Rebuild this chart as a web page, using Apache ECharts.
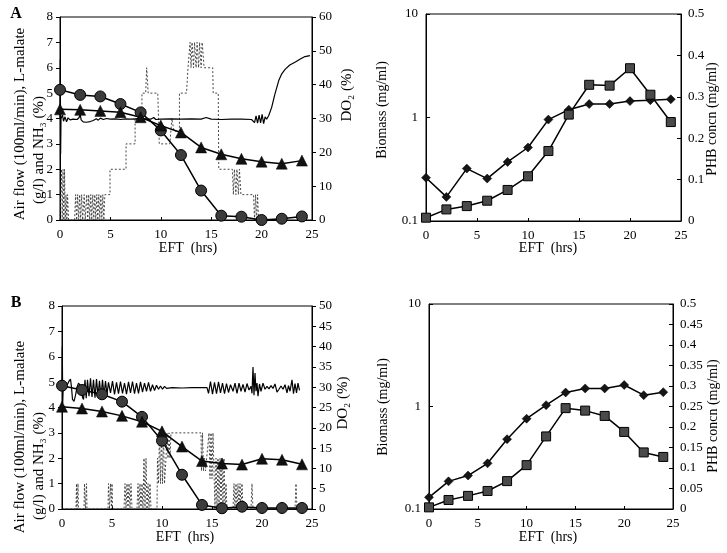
<!DOCTYPE html>
<html><head><meta charset="utf-8">
<script src="https://cdn.jsdelivr.net/npm/echarts@6/dist/echarts.min.js"></script>
<style>html,body{margin:0;padding:0;background:#fff}#c{width:727px;height:553px}</style>
</head><body><div id="c"></div>
<script>
// ---------- DATA ----------
const hoursPts = [0,2,4,6,8,10,12,14,16,18,20,22,24];
const xTicks = [0,5,10,15,20,25];

// Panel A (left)
const malateA = [5.13,4.93,4.87,4.57,4.24,3.53,2.56,1.16,0.17,0.13,0.0,0.05,0.14];
const nh3A    = [4.36,4.34,4.30,4.25,4.05,3.72,3.45,2.86,2.59,2.41,2.30,2.22,2.34];
const airA = [[0,0],[0.1,0],[0.15,2],[0.22,0],[0.3,2],[0.38,0],[0.45,2],[0.52,0],[0.6,1],[0.68,0],[0.75,1],[0.85,0],[1.45,0],[1.55,1],[1.65,0],[1.75,1],[1.85,0],[1.95,1],[2.05,0],[2.15,1],[2.25,0],[2.4,1],[2.5,0],[2.65,1],[2.75,0],[2.85,1],[2.95,0],[3.05,1],[3.15,0],[3.25,1],[3.35,0],[3.45,1],[3.55,0],[3.65,1],[3.75,0],[3.85,1],[3.95,0],[4.05,1],[4.15,0],[4.25,1],[4.35,0],[4.45,1],[4.96,1],[4.96,2],[6.55,2],[6.55,3],[7.45,3],[7.45,4],[8.13,4],[8.13,5],[8.5,5],[8.6,6],[8.75,5],[9.7,5],[9.85,3],[10.9,3],[11.1,4],[11.3,3.5],[11.85,3.5],[11.85,5],[12.55,5],[12.7,6],[12.9,7],[13.0,6],[13.1,7],[13.25,6],[13.35,7],[13.5,6],[13.6,7],[13.75,6],[13.85,7],[14.0,6],[14.1,7],[14.3,6],[15.15,6],[15.2,5],[15.7,5],[15.75,2],[17.1,2],[17.2,1],[17.3,2],[17.45,1],[17.55,2],[17.7,1],[17.8,2],[17.95,1],[19.2,1],[19.3,0],[19.4,1],[19.5,0],[19.6,1],[19.7,0],[19.9,0]];
const do2A = [[0,30],[0.03,47.5],[0.06,19.5],[0.1,30],[0.25,31],[0.35,29.2],[0.5,30.5],[0.65,29],[0.8,30.2],[1.0,29.6],[1.3,29.8],[1.7,29.7],[1.9,30.3],[2.0,31.2],[2.1,29.6],[2.3,29.0],[2.6,28.9],[3.0,29.1],[3.3,29.4],[3.6,29.9],[3.8,29.5],[4.0,30.1],[4.3,29.7],[4.6,30.0],[5.0,29.8],[5.5,29.9],[6.0,29.7],[6.5,29.9],[7.0,29.8],[7.5,29.9],[8.0,29.8],[8.5,29.9],[9.0,29.8],[9.3,30.3],[9.5,29.7],[10.0,29.8],[11.0,29.9],[12.0,29.8],[13.0,29.9],[14.0,29.8],[14.5,30.3],[15.0,29.8],[16.0,29.7],[17.0,29.8],[18.0,29.8],[19.0,29.7],[19.3,28.8],[19.45,30.8],[19.6,28.6],[19.75,31.0],[19.9,28.7],[20.05,31.2],[20.2,28.5],[20.35,30.5],[20.5,29.8],[20.7,30.8],[21.0,33.3],[21.3,37],[21.7,41.2],[22.0,43.2],[22.35,44.6],[22.8,45.8],[23.35,46.7],[23.8,47.5],[24.3,48.3],[24.8,48.6]];

// Panel A (right)
const biomassA = [0.262,0.171,0.321,0.257,0.372,0.513,0.955,1.19,1.35,1.35,1.44,1.47,1.50];
const phbA     = [0.008,0.028,0.036,0.049,0.075,0.108,0.169,0.257,0.329,0.327,0.369,0.305,0.239];

// Panel B (left)
const malateB = [4.86,4.69,4.52,4.23,3.63,2.69,1.35,0.16,0.03,0.09,0.04,0.04,0.04];
const nh3B    = [4.03,3.96,3.84,3.67,3.44,3.06,2.46,1.89,1.79,1.75,1.98,1.94,1.76];
const airB = [[0,0],[1.4,0],[1.45,1],[1.5,0],[1.6,1],[1.65,0],[2.2,0],[2.25,1],[2.35,0],[2.45,1],[2.5,0],[4.6,0],[4.65,1],[4.75,0],[4.85,1],[4.95,0],[5.0,1],[5.05,0],[6.2,0],[6.3,1],[6.4,0],[6.5,1],[6.6,0],[6.7,1],[6.8,0],[6.9,1],[7.0,0],[7.5,0],[7.6,1],[7.7,0],[7.8,1],[7.9,0],[8.0,1],[8.1,0],[8.2,2],[8.3,0],[8.4,2],[8.5,0],[8.6,1],[8.7,0],[8.8,1],[8.9,0],[9.5,0],[9.55,2],[9.65,1],[9.75,3],[9.85,1],[9.95,3],[10.05,1],[10.15,3],[10.25,1],[10.4,2],[10.5,3],[10.6,2],[10.7,3],[10.8,2],[10.9,3],[13.9,3],[13.95,1.5],[14.05,3],[14.15,1.5],[14.25,2],[14.35,1.5],[14.7,3],[14.8,1.2],[14.9,3],[15.0,1.2],[15.1,3],[15.2,1.5],[15.3,0],[15.4,2],[15.5,0],[15.6,2],[15.7,0],[15.8,2],[15.9,0],[16.0,2],[16.1,0],[16.2,2],[16.3,0],[16.4,1],[16.5,0],[17.1,0],[17.2,1],[17.3,0],[17.4,1],[17.5,0],[17.6,1],[17.7,0],[17.8,1],[17.9,0],[18.0,1],[18.1,0],[18.9,0],[19.0,1],[19.1,0],[23.3,0],[23.4,1],[23.5,0],[23.7,0]];
const do2B = [[0,30],[0.03,40],[0.07,26],[0.12,30],[0.3,29.5],[0.5,30.5],[0.7,31.5],[0.85,32],[0.95,30],[1.05,27],[1.2,26.5],[1.35,28],[1.5,30],[1.65,31],[1.8,30.5],[1.95,29.5],[2.05,27.5],[2.15,27],[2.3,31.8],[2.42,27.3],[2.55,31.8],[2.7,27.8],[2.85,32.2],[3.0,27.6],[3.15,31.8],[3.3,27.4],[3.45,32],[3.6,27.8],[3.75,31.6],[3.9,27.6],[4.05,31.8],[4.2,28],[4.35,31.5],[4.5,28.3],[4.65,31.2],[4.85,28.6],[5.05,31.5],[5.25,28.2],[5.45,31.2],[5.65,28.4],[5.85,31.4],[6.05,28.5],[6.25,31],[6.45,28.3],[6.65,31.3],[6.85,28.6],[7.05,31.4],[7.25,28.4],[7.45,31],[7.65,28.5],[7.85,31.3],[8.05,28.8],[8.25,31],[8.45,29],[8.65,31.2],[8.85,29],[9.05,30.6],[9.25,29.2],[9.45,30.5],[9.65,29.5],[9.85,30.3],[10.05,29.5],[10.25,30.2],[10.45,29.7],[10.6,29.9],[11,29.9],[12,29.8],[13,29.9],[14,29.9],[14.5,29.9],[14.65,28.5],[14.85,31.4],[15.05,28.3],[15.25,31.2],[15.45,28.4],[15.65,31.3],[15.85,28.6],[16.05,31],[16.25,28.4],[16.45,30.9],[16.65,28.7],[16.85,30.6],[17.1,29],[17.3,31],[17.5,28.5],[17.7,31],[17.9,29],[18.1,30.7],[18.3,28.8],[18.5,30.9],[18.7,29.3],[18.9,30.2],[19.0,28.5],[19.1,35],[19.2,28],[19.3,33.5],[19.4,29],[19.5,31],[19.6,27.8],[19.75,30.8],[19.9,29],[20.1,31],[20.3,29.5],[20.5,30.2],[20.7,29.6],[20.9,30.4],[21.1,29.7],[21.3,30.8],[21.5,28.8],[21.7,29.5],[21.9,30.3],[22.1,29.5],[22.3,30.6],[22.5,28.6],[22.65,30.4],[22.8,29],[23.0,31.8],[23.15,28.4],[23.3,30.9],[23.45,28.6],[23.6,31],[23.75,29.2]];

// Panel B (right)
const biomassB = [0.130,0.186,0.212,0.279,0.480,0.760,1.03,1.37,1.50,1.50,1.62,1.29,1.38];
const phbB     = [0.004,0.022,0.032,0.044,0.068,0.107,0.177,0.246,0.240,0.227,0.188,0.138,0.127];

// ---------- CHART ----------
const FONT = 'Liberation Serif';
const pair = (xs, ys) => xs.map((x, i) => [x, ys[i]]);
const chart = echarts.init(document.getElementById('c'), null, {renderer: 'canvas'});

const axLabel = {color: '#000', fontFamily: FONT, fontSize: 13};
function xAx(gi) {
  return {type: 'value', gridIndex: gi, min: 0, max: 25, interval: 5,
    axisLine: {show: true, lineStyle: {color: '#000', width: 1}},
    axisTick: {show: true, length: 3, inside: true, lineStyle: {color: '#000'}},
    axisLabel: Object.assign({margin: 8}, axLabel), splitLine: {show: false}};
}
function yAx(gi, pos, min, max, interval, extra) {
  return Object.assign({type: 'value', gridIndex: gi, position: pos, min: min, max: max, interval: interval,
    axisLine: {show: true, onZero: false, lineStyle: {color: '#000', width: 1}},
    axisTick: {show: true, length: 4, inside: false, lineStyle: {color: '#000'}},
    axisLabel: Object.assign({margin: 7}, axLabel), splitLine: {show: false}}, extra || {});
}
function logAx(gi) {
  return {type: 'log', logBase: 10, gridIndex: gi, position: 'left', min: 0.1, max: 10,
    axisLine: {show: true, onZero: false, lineStyle: {color: '#000', width: 1}},
    axisTick: {show: true, length: 4, inside: true, lineStyle: {color: '#000'}},
    minorTick: {show: false},
    axisLabel: Object.assign({margin: 8, formatter: v => String(+v.toPrecision(3))}, axLabel), splitLine: {show: false}};
}

const circ = {symbol: 'circle', symbolSize: 11, itemStyle: {color: '#3c3c3c', borderColor: '#000', borderWidth: 1}};
const tri = {symbol: 'triangle', symbolSize: 11, itemStyle: {color: '#111', borderColor: '#000', borderWidth: 0.5}};
const sq = {symbol: 'rect', symbolSize: 9, itemStyle: {color: '#4a4a4a', borderColor: '#000', borderWidth: 1}};
const dia = {symbol: 'diamond', symbolSize: 9, itemStyle: {color: '#151515', borderColor: '#000', borderWidth: 0.5}};
function mk(style, xi, yi, data) {
  return Object.assign({type: 'line', xAxisIndex: xi, yAxisIndex: yi, data: data, z: 5,
    lineStyle: {color: '#000', width: 1.5}, showSymbol: true, animation: false}, style);
}
function plain(xi, yi, data, lw, dash) {
  return {type: 'line', xAxisIndex: xi, yAxisIndex: yi, data: data, symbol: 'none', z: 3, animation: false,
    lineStyle: {color: dash ? '#333' : '#000', width: lw, type: dash ? [2, 2] : 'solid'}};
}

const grids = [
  {left: 60, top: 17, width: 252, height: 203},
  {left: 426, top: 14, width: 255, height: 207},
  {left: 62, top: 306, width: 250, height: 203},
  {left: 429, top: 304, width: 244, height: 205}
].map(g => Object.assign({show: true, borderColor: '#000', borderWidth: 1, backgroundColor: 'transparent'}, g));

function vtext(x, y, text, size) {
  return {type: 'text', x: x, y: y, rotation: Math.PI / 2,
    style: {text: text, fontFamily: FONT, fontSize: size || 14, fill: '#000', textAlign: 'center', textVerticalAlign: 'middle'}};
}
function htext(x, y, text, size, bold) {
  return {type: 'text', x: x, y: y,
    style: {text: text, fontFamily: FONT, fontSize: size || 14, fontWeight: bold ? 'bold' : 'normal', fill: '#000', textAlign: 'center', textVerticalAlign: 'middle'}};
}

chart.setOption({
  animation: false,
  grid: grids,
  xAxis: [xAx(0), xAx(1), xAx(2), xAx(3)],
  yAxis: [
    yAx(0, 'left', 0, 8, 1),
    yAx(0, 'right', 0, 60, 10),
    logAx(1),
    yAx(1, 'right', 0, 0.5, 0.1, {axisTick: {show: true, length: 4, inside: true, lineStyle: {color: '#000'}}}),
    yAx(2, 'left', 0, 8, 1),
    yAx(2, 'right', 0, 50, 5),
    logAx(3),
    yAx(3, 'right', 0, 0.5, 0.05, {axisTick: {show: true, length: 4, inside: true, lineStyle: {color: '#000'}}})
  ],
  series: [
    plain(0, 0, airA, 0.9, true),
    plain(0, 1, do2A, 1.2, false),
    mk(circ, 0, 0, pair(hoursPts, malateA)),
    mk(tri, 0, 0, pair(hoursPts, nh3A)),
    mk(dia, 1, 2, pair(hoursPts, biomassA)),
    mk(sq, 1, 3, pair(hoursPts, phbA)),
    plain(2, 4, airB, 0.9, true),
    plain(2, 5, do2B, 1.2, false),
    mk(circ, 2, 4, pair(hoursPts, malateB)),
    mk(tri, 2, 4, pair(hoursPts, nh3B)),
    mk(dia, 3, 6, pair(hoursPts, biomassB)),
    mk(sq, 3, 7, pair(hoursPts, phbB))
  ],
  graphic: [
    htext(16, 14, 'A', 16, true),
    htext(16, 303, 'B', 16, true),
    vtext(20, 124, 'Air flow (100ml/min), L-malate', 15),
    vtext(39, 150, '(g/l) and NH\u2083 (%)', 15),
    vtext(347, 95, 'DO\u2082 (%)', 15),
    htext(188, 248, 'EFT  (hrs)', 14),
    vtext(382, 110, 'Biomass (mg/ml)', 14),
    vtext(712, 119, 'PHB concn (mg/ml)', 14),
    htext(548, 248, 'EFT  (hrs)', 14),
    vtext(20, 437, 'Air flow (100ml/min), L-malate', 15),
    vtext(39, 466, '(g/l) and NH\u2083 (%)', 15),
    vtext(343, 403, 'DO\u2082 (%)', 15),
    htext(185, 537, 'EFT  (hrs)', 14),
    vtext(383, 407, 'Biomass (mg/ml)', 14),
    vtext(713, 416, 'PHB concn (mg/ml)', 14),
    htext(548, 537, 'EFT  (hrs)', 14)
  ]
});
</script>
</body></html>
